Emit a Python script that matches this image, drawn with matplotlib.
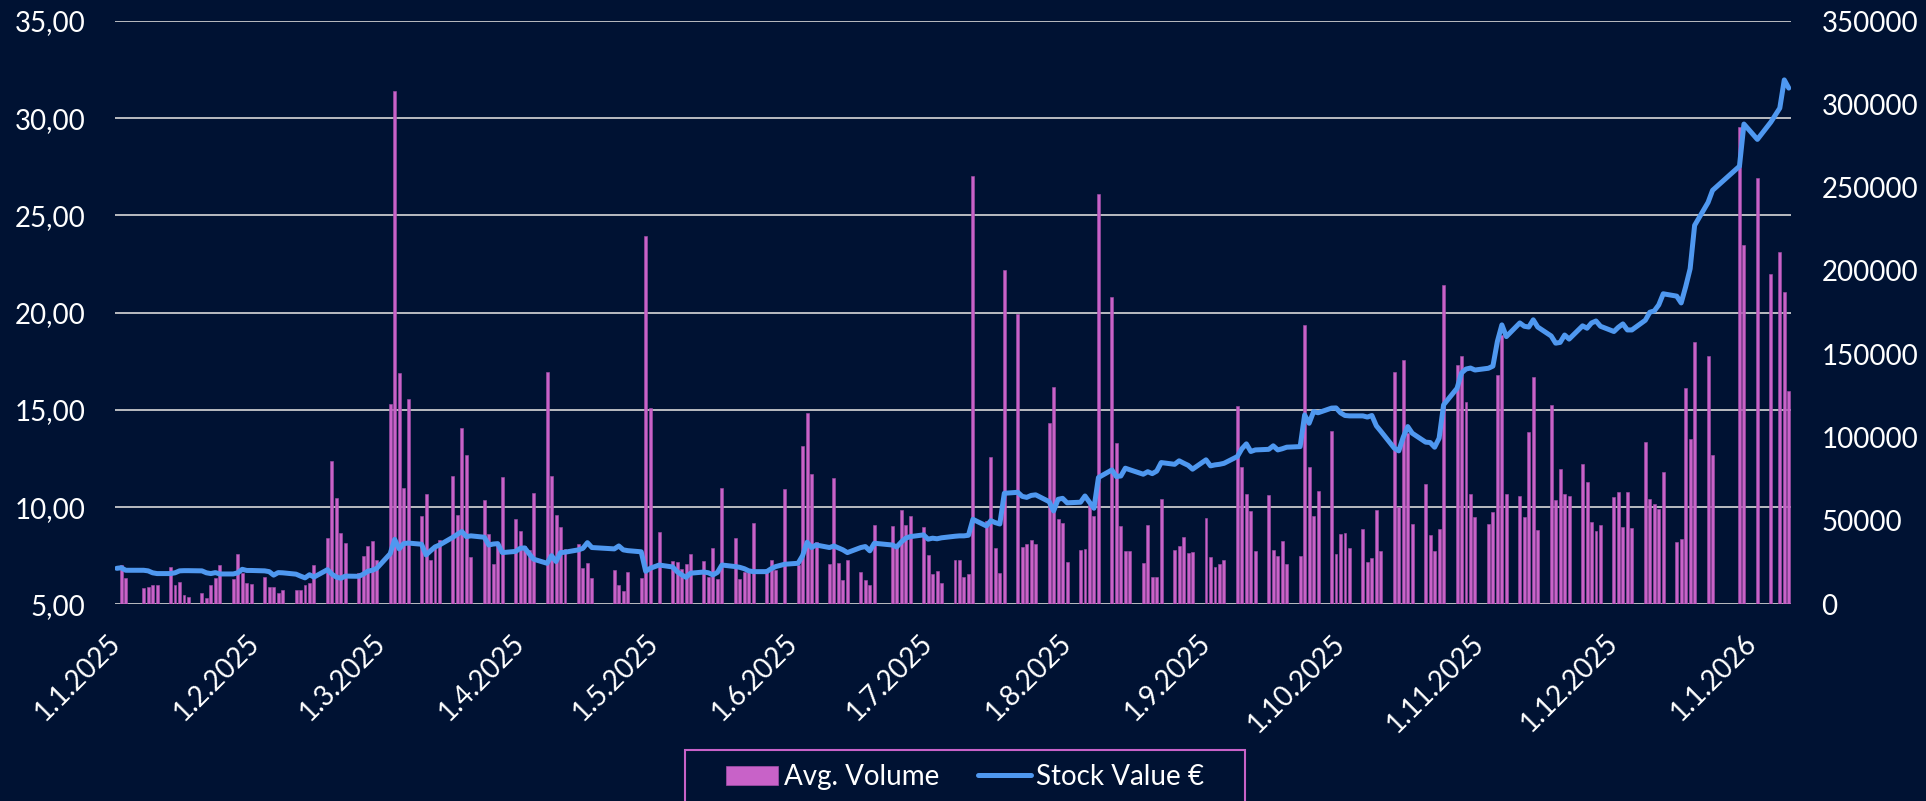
import numpy as np
import pandas as pd
import matplotlib
matplotlib.use("Agg")
import matplotlib.pyplot as plt
from matplotlib.patches import Rectangle, Patch
from matplotlib.lines import Line2D

plt.rcParams['font.family'] = ['Lato', 'DejaVu Sans']

# trading days (Helsinki calendar), Jan 1 kept for the price line
holidays = ['2025-01-06', '2025-04-18', '2025-04-21', '2025-05-01', '2025-05-29',
            '2025-06-20', '2025-12-24', '2025-12-25', '2025-12-26', '2025-12-31',
            '2026-01-01', '2026-01-06']
days = pd.bdate_range('2025-01-01', '2026-01-09')
days = days[~days.isin(pd.to_datetime(holidays))]

volume = [
    0, 23800, 15600,
    9600, 10600, 11400, 11400,
    22400, 11800, 13200, 5600, 4600,
    6600, 3600, 11800, 15600, 23600,
    15000, 30000, 19000, 13000, 12200,
    16400, 10600, 10400, 7000, 8600,
    8400, 8600, 11400, 12600, 23400,
    39800, 86000, 63800, 43000, 36600,
    18600, 29200, 35000, 38000, 26600,
    120200, 308000, 138600, 69600, 123400,
    53000, 66400, 26800, 33600, 38400,
    77200, 53600, 106000, 89800, 28200,
    62800, 42400, 24200, 36600, 76200,
    51000, 44000, 35000, 32600, 67000,
    139600, 76800, 53400, 46400, 33000,
    36200, 21600, 24600, 16000,
    20400, 11400, 8000, 19200,
    16000, 220700, 118000, 43600,
    26200, 25200, 21000, 24200, 30400,
    26000, 16600, 34000, 15200, 69600,
    39600, 15000, 19600, 20600, 49000,
    21000, 26600, 20600, 69000,
    23600, 95000, 114600, 78400, 37200,
    24000, 76000, 25000, 14600, 26600,
    19600, 14600, 11600, 47600,
    46800, 34600, 56600, 47400, 52800,
    46200, 29400, 18200, 20000, 13000,
    26400, 26600, 16600, 18000, 256800,
    50200, 88600, 34000, 19000, 200600,
    174400, 34200, 36000, 38400, 36000,
    109000, 130200, 51200, 49000, 25200,
    32800, 33400, 59600, 53000, 245900,
    184600, 96600, 47200, 32000, 31800,
    24600, 47600, 16200, 16600, 63000,
    32800, 34800, 40200, 31000, 31400,
    52000, 28400, 22600, 24200, 26800,
    119200, 82200, 66200, 56200, 32200,
    65600, 32400, 29200, 37800, 24400,
    28800, 167800, 82200, 53200, 68000,
    104000, 30200, 42400, 42600, 33600,
    45000, 25600, 27600, 56800, 32200,
    139200, 58400, 146600, 103000, 48000,
    72200, 41600, 31800, 45000, 191600,
    143800, 149200, 121400, 66000, 52600,
    48000, 55400, 137700, 161400, 66000,
    65100, 52300, 103400, 136200, 44600,
    119300, 62700, 81200, 66300, 64900,
    83900, 73500, 49400, 43900, 47700,
    64400, 67500, 46300, 67500, 45800,
    97200, 62900, 60300, 57400, 79600,
    37400, 39300, 129500, 98900, 157200,
    149000, 89700,
    286400, 215800,
    256000,
    198400, 211400, 187600, 127800,
]

price = [
    6.85, 6.88, 6.75,
    6.75, 6.72, 6.62, 6.58,
    6.58, 6.62, 6.72, 6.73, 6.73,
    6.72, 6.62, 6.58, 6.63, 6.56,
    6.56, 6.62, 6.80, 6.74, 6.74,
    6.72, 6.68, 6.50, 6.63, 6.62,
    6.55, 6.45, 6.36, 6.52, 6.40,
    6.78, 6.55, 6.40, 6.34, 6.45,
    6.44, 6.55, 6.70, 6.75, 6.85,
    7.60, 8.34, 7.85, 8.12, 8.15,
    8.09, 7.54, 7.75, 7.95, 8.05,
    8.45, 8.60, 8.74, 8.48, 8.52,
    8.45, 8.05, 8.10, 8.12, 7.66,
    7.72, 7.88, 7.90, 7.60, 7.32,
    7.11, 7.50, 7.20, 7.66, 7.68,
    7.80, 7.88, 8.17, 7.92,
    7.85, 8.00, 7.80, 7.76,
    7.70, 6.70, 6.85, 7.02,
    6.92, 6.68, 6.52, 6.39, 6.60,
    6.66, 6.62, 6.51, 6.64, 7.02,
    6.94, 6.90, 6.83, 6.72, 6.68,
    6.68, 6.83, 6.94, 7.06,
    7.11, 7.50, 8.19, 7.92, 8.05,
    7.92, 8.00, 7.90, 7.80, 7.66,
    7.92, 7.97, 7.75, 8.14,
    8.05, 7.95, 8.20, 8.40, 8.48,
    8.57, 8.35, 8.40, 8.37, 8.42,
    8.50, 8.52, 8.52, 8.55, 9.37,
    9.03, 9.30, 9.20, 9.13, 10.71,
    10.76, 10.55, 10.50, 10.60, 10.63,
    10.28, 9.80, 10.40, 10.45, 10.22,
    10.25, 10.57, 10.25, 9.94, 11.52,
    11.91, 11.57, 11.60, 12.00, 11.92,
    11.69, 11.82, 11.72, 11.85, 12.29,
    12.20, 12.38, 12.26, 12.15, 11.95,
    12.43, 12.12, 12.17, 12.20, 12.25,
    12.60, 13.00, 13.25, 12.86, 12.94,
    12.97, 13.15, 12.94, 13.00, 13.08,
    13.11, 14.74, 14.31, 14.91, 14.85,
    15.09, 15.10, 14.85, 14.71, 14.69,
    14.69, 14.63, 14.71, 14.18, 13.90,
    13.03, 12.89, 13.60, 14.14, 13.80,
    13.34, 13.32, 13.08, 13.54, 15.26,
    16.11, 16.90, 17.10, 17.15, 17.05,
    17.14, 17.25, 18.52, 19.37, 18.77,
    19.47, 19.30, 19.26, 19.63, 19.26,
    18.80, 18.43, 18.47, 18.85, 18.64,
    19.32, 19.20, 19.47, 19.57, 19.30,
    19.03, 19.25, 19.42, 19.11, 19.11,
    19.61, 20.02, 20.09, 20.40, 20.97,
    20.85, 20.50, 21.33, 22.26, 24.49,
    25.67, 26.29,
    27.53, 29.70,
    28.91,
    29.80, 30.52, 31.97, 31.55,
]

left_ticks = [5, 10, 15, 20, 25, 30, 35]
right_ticks = [0, 50000, 100000, 150000, 200000, 250000, 300000, 350000]
month_ticks = pd.date_range('2025-01-01', '2026-01-01', freq='MS')

assert len(volume) == len(days) and len(price) == len(days)

bg = '#001233'
bar_col = '#c862c8'
line_col = '#4f98f0'
grid_col = '#d9d9d9'
txt = '#ffffff'

W, H = 1926, 801
fig = plt.figure(figsize=(W / 100, H / 100), dpi=100, facecolor=bg)
rect = [114.5 / W, 1 - 604.3 / H, (1791 - 114.5) / W, (604.3 - 21) / H]
xlim = (pd.Timestamp('2024-12-31 12:00'), pd.Timestamp('2026-01-09 12:00'))

# gridlines at the back
ax_grid = fig.add_axes(rect, facecolor=bg)
ax_grid.set_ylim(5, 35)
ax_grid.set_yticks(left_ticks)
ax_grid.set_xticks([])
ax_grid.yaxis.grid(True, color=grid_col, lw=1.2)
ax_grid.tick_params(left=False, labelleft=False)
for s in ax_grid.spines.values():
    s.set_visible(False)

# volume bars, right axis
ax_bar = fig.add_axes(rect)
ax_bar.patch.set_visible(False)
vol_dates = days[np.array(volume) > 0]
vol_vals = [v for v in volume if v > 0]
ax_bar.bar(vol_dates, vol_vals, width=0.66, color=bar_col, edgecolor='#a64fab', linewidth=0.4)
ax_bar.set_xlim(*xlim)
ax_bar.set_ylim(0, 350000)
ax_bar.set_yticks(right_ticks)
ax_bar.set_yticklabels([str(t) for t in right_ticks])
ax_bar.yaxis.tick_right()
ax_bar.tick_params(axis='y', length=0, pad=22, labelsize=20, labelcolor=txt)
ax_bar.set_xticks([])
for s in ax_bar.spines.values():
    s.set_visible(False)

# stock value line, left axis
ax = fig.add_axes(rect)
ax.patch.set_visible(False)
ax.plot(days, price, color=line_col, lw=3.6, solid_joinstyle='round', solid_capstyle='round')
ax.set_xlim(*xlim)
ax.set_ylim(5, 35)
ax.set_yticks(left_ticks)
ax.set_yticklabels([f"{t:.2f}".replace('.', ',') for t in left_ticks])
ax.set_xticks(month_ticks)
ax.set_xticklabels([f"{d.day}.{d.month}.{d.year}" for d in month_ticks],
                   rotation=45, ha='right', va='center', rotation_mode='anchor')
ax.tick_params(axis='y', length=0, pad=21, labelsize=20, labelcolor=txt)
ax.tick_params(axis='x', length=0, pad=25, labelsize=20, labelcolor=txt)
for s in ax.spines.values():
    s.set_visible(False)

# legend, box runs off the bottom edge like the original
fig.patches.append(Rectangle((685 / W, 1 - 812 / H), 560 / W, 62 / H, transform=fig.transFigure,
                             facecolor='none', edgecolor=bar_col, lw=1.5))
handles = [Patch(facecolor=bar_col, edgecolor='#a64fab', lw=0.5),
           Line2D([], [], color=line_col, lw=3.6, solid_capstyle='round')]
fig.legend(handles, ['Avg. Volume', 'Stock Value €'], loc='center',
           bbox_to_anchor=(965 / W, 1 - 777 / H), ncol=2, frameon=False,
           fontsize=20, labelcolor=txt, handlelength=1.9, handletextpad=0.2,
           columnspacing=1.4)

fig.savefig('out.png', dpi=100, facecolor=bg)
